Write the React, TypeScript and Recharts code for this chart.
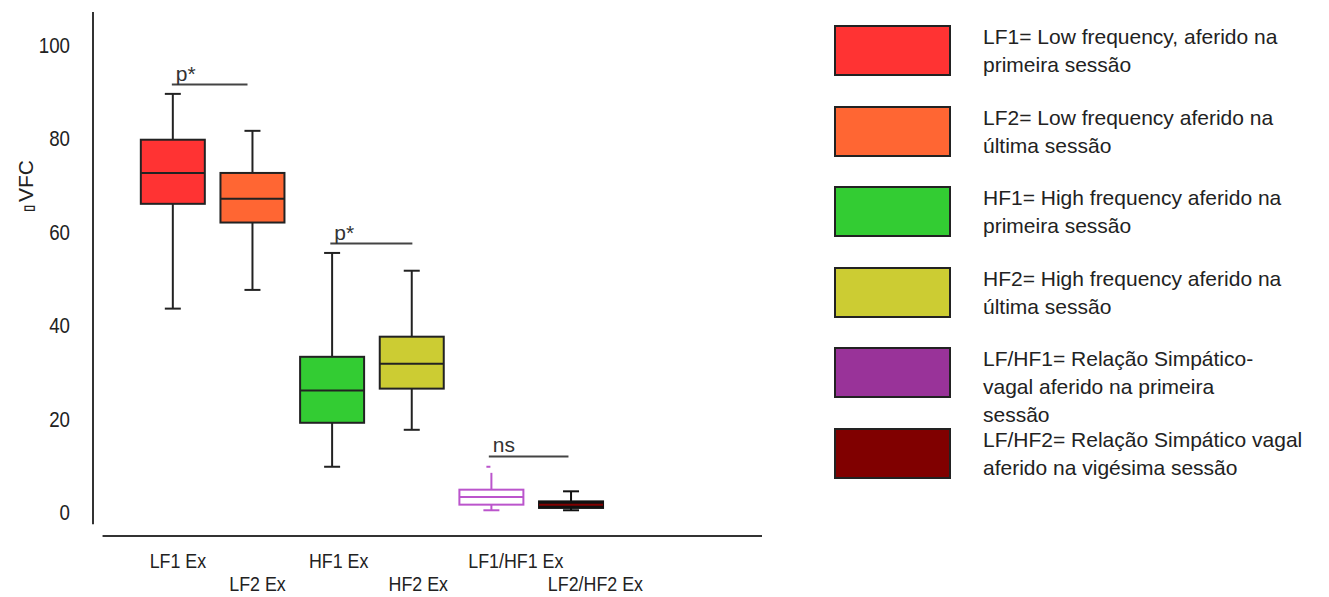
import { ComposedChart, Bar, XAxis, YAxis, ReferenceLine, Legend } from 'recharts';

// groups along the x axis (drawn at positions 1..6)
const groups = ['LF1 Ex', 'LF2 Ex', 'HF1 Ex', 'HF2 Ex', 'LF1/HF1 Ex', 'LF2/HF2 Ex'];
const positions = [1, 2, 3, 4, 5, 6];

// five-number summaries per group
const mins = [43.6, 47.6, 9.8, 17.7, 0.5, 0.5];
const q1s = [66, 62, 19.2, 26.5, 1.7, 1.0];
const medians = [72.6, 67.1, 26.1, 31.8, 3.35, 1.7];
const q3s = [79.7, 72.6, 33.3, 37.6, 4.9, 2.4];
const maxs = [89.5, 81.6, 55.5, 51.7, 8.5, 4.55];
const outliers: number[][] = [[], [], [], [], [9.8], []];

const yTicks = [0, 20, 40, 60, 80, 100];

// significance brackets: x in axis positions, y in VFC units
const sigX1 = [0.99, 2.98, 4.97];
const sigX2 = [1.94, 4.01, 5.97];
const sigY = [91.5, 57.5, 12];
const sigText = ['p*', 'p*', 'ns'];

const legendColors = ['#ff3333', '#ff6633', '#33cc33', '#cccc33', '#993399', '#800000'];
const legendLines = [
  ['LF1= Low frequency, aferido na', 'primeira sessão'],
  ['LF2= Low frequency aferido na', 'última sessão'],
  ['HF1= High frequency aferido na', 'primeira sessão'],
  ['HF2= High frequency aferido na', 'última sessão'],
  ['LF/HF1= Relação Simpático-', 'vagal aferido na primeira', 'sessão'],
  ['LF/HF2= Relação Simpático vagal', 'aferido na vigésima sessão'],
];

// box styling per group
const boxFills = ['#ff3333', '#ff6633', '#33cc33', '#cccc33', '#ffffff', '#111111'];
const boxStrokes = ['#222', '#222', '#222', '#222', '#bb55cc', '#111'];
const medianStrokes = ['#222', '#222', '#222', '#222', '#bb55cc', '#800000'];
const topCaps = [true, true, true, true, false, true];

const data = groups.map((g, i) => ({
  name: g,
  pos: positions[i],
  min: mins[i],
  q1: q1s[i],
  median: medians[i],
  q3: q3s[i],
  max: maxs[i],
  outliers: outliers[i],
  range: [mins[i], maxs[i]],
  idx: i,
}));

function BoxShape(props: any) {
  const { x, y, width, height, payload } = props;
  if (x == null || y == null) return null;
  const top = Math.min(y, y + height);
  const bottom = Math.max(y, y + height);
  const { min, max, q1, q3, median, idx } = payload;
  // map values inside the bar's [min, max] pixel span
  const py = (v: number) => bottom - ((v - min) / (max - min)) * (bottom - top);
  const cx = x + width / 2;
  const cap = 8;
  const stroke = boxStrokes[idx];
  return (
    <g>
      <line x1={cx} x2={cx} y1={py(max)} y2={py(q3)} stroke={stroke} strokeWidth={2} />
      <line x1={cx} x2={cx} y1={py(q1)} y2={py(min)} stroke={stroke} strokeWidth={2} />
      {topCaps[idx] && (
        <line x1={cx - cap} x2={cx + cap} y1={py(max)} y2={py(max)} stroke={stroke} strokeWidth={2} />
      )}
      <line x1={cx - cap} x2={cx + cap} y1={py(min)} y2={py(min)} stroke={stroke} strokeWidth={2} />
      <rect
        x={x}
        y={py(q3)}
        width={width}
        height={py(q1) - py(q3)}
        fill={boxFills[idx]}
        stroke={stroke}
        strokeWidth={2}
      />
      <line x1={x} x2={x + width} y1={py(median)} y2={py(median)} stroke={medianStrokes[idx]} strokeWidth={2} />
      {payload.outliers.map((o: number, k: number) => (
        <line key={k} x1={cx - 5} x2={cx - 1} y1={py(o)} y2={py(o)} stroke={stroke} strokeWidth={2} />
      ))}
    </g>
  );
}

// condensed-looking tick text: squeeze Liberation Sans horizontally
function GroupTick(props: any) {
  const { x, y, payload } = props;
  const i = positions.indexOf(payload.value);
  if (i < 0) return null;
  const row = i % 2;
  return (
    <g transform={`translate(${x - 23},${y + 32 + row * 23}) scale(0.85,1)`}>
      <text x={0} y={0} fontSize={21} fill="#222" textAnchor="start">
        {groups[i]}
      </text>
    </g>
  );
}

function ValueTick(props: any) {
  const { x, y, payload } = props;
  return (
    <g transform={`translate(${x},${y}) scale(0.85,1)`}>
      <text x={0} y={0} dy="0.355em" fontSize={22} fill="#222" textAnchor="end">
        {payload.value}
      </text>
    </g>
  );
}

function LegendBlock() {
  return (
    <div style={{ position: 'relative', width: 495, height: 480, fontFamily: 'Liberation Sans, Arial, sans-serif' }}>
      {legendLines.map((lines, i) => (
        <div key={i} style={{ position: 'absolute', left: 0, top: i * 80.6, display: 'flex', alignItems: 'flex-start' }}>
          <div style={{ width: 113, height: 47, background: legendColors[i], border: '2px solid #222', flex: 'none' }} />
          <div style={{ marginLeft: 32, marginTop: -2, fontSize: 21, lineHeight: '28px', color: '#222', whiteSpace: 'nowrap' }}>
            {lines.map((l, k) => (
              <div key={k}>{l}</div>
            ))}
          </div>
        </div>
      ))}
    </div>
  );
}

export default function App() {
  return (
    <div style={{ position: 'absolute', left: 0, top: 0, fontFamily: 'Liberation Sans, Arial, sans-serif' }}>
      <ComposedChart width={1329} height={597} data={data} margin={{ top: 12, right: 567, bottom: 0, left: 0 }}>
        <XAxis
          dataKey="pos"
          type="number"
          domain={[0, 8.4]}
          ticks={positions}
          axisLine={false}
          tickLine={false}
          tickSize={0}
          tickMargin={0}
          height={61}
          interval={0}
          tick={<GroupTick />}
        />
        <YAxis
          type="number"
          domain={[-5, 107]}
          ticks={yTicks}
          axisLine={false}
          tickLine={false}
          tickSize={0}
          tickMargin={23}
          width={93}
          tick={<ValueTick />}
          label={() => (
            <text transform="translate(33,186) rotate(-90)" textAnchor="middle" fontSize={21} fill="#222">
              <tspan fontSize={13} fontWeight="bold">▯</tspan>
              <tspan dx={3}>VFC</tspan>
            </text>
          )}
        />
        {/* axis lines */}
        <ReferenceLine
          segment={[{ x: 0, y: 107 }, { x: 0, y: -2.5 }]}
          stroke="#333"
          strokeWidth={2}
          ifOverflow="visible"
        />
        <ReferenceLine
          segment={[{ x: 0.12, y: -5 }, { x: 8.4, y: -5 }]}
          stroke="#333"
          strokeWidth={2}
          ifOverflow="visible"
        />
        <Bar dataKey="range" barSize={64} shape={<BoxShape />} isAnimationActive={false} legendType="none" />
        {sigText.map((t, i) => (
          <ReferenceLine
            key={i}
            segment={[{ x: sigX1[i], y: sigY[i] }, { x: sigX2[i], y: sigY[i] }]}
            stroke="#444"
            strokeWidth={2}
            ifOverflow="visible"
            label={{ value: t, position: 'insideBottomLeft', offset: 4, fill: '#333', fontSize: 21 }}
          />
        ))}
        <Legend
          layout="vertical"
          align="center"
          verticalAlign="middle"
          width={495}
          height={480}
          wrapperStyle={{ left: 834, top: 25 }}
          content={() => <LegendBlock />}
        />
      </ComposedChart>
    </div>
  );
}
